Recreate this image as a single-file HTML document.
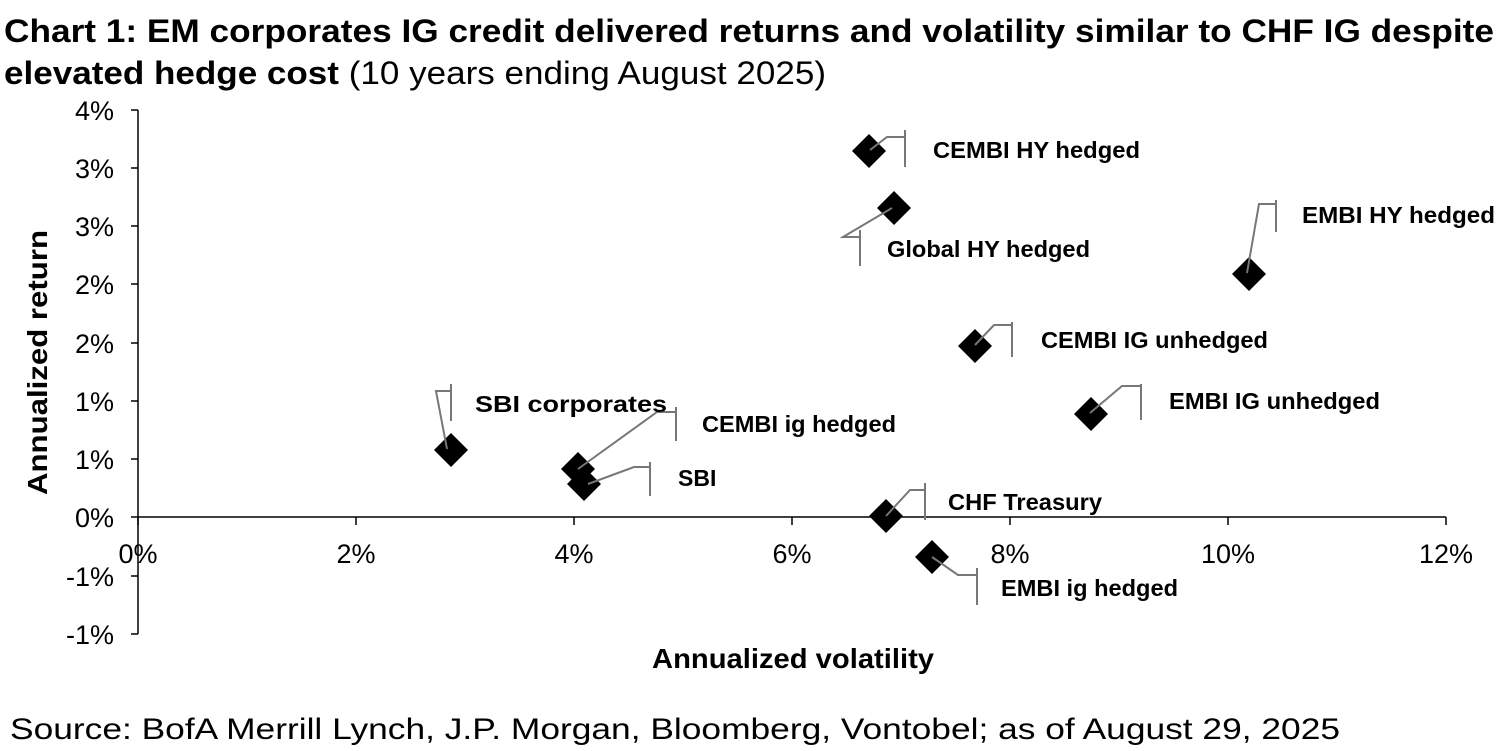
<!DOCTYPE html>
<html><head><meta charset="utf-8"><style>html,body{margin:0;padding:0;background:#fff}svg{display:block}</style></head>
<body>
<svg width="1500" height="751" viewBox="0 0 1500 751" xmlns="http://www.w3.org/2000/svg" font-family="Liberation Sans, Arial, sans-serif">
<text x="4" y="42" font-size="32" font-weight="bold" textLength="1490" lengthAdjust="spacingAndGlyphs">Chart 1: EM corporates IG credit delivered returns and volatility similar to CHF IG despite</text>
<text x="4" y="84" font-size="32" textLength="822" lengthAdjust="spacingAndGlyphs"><tspan font-weight="bold">elevated hedge cost</tspan> (10 years ending August 2025)</text>
<g stroke="#000" stroke-width="1.5" fill="none">
<line x1="138" y1="110" x2="138" y2="634"/>
<line x1="138" y1="517" x2="1446" y2="517"/>
<path d="M131 110H138M131 168H138M131 226H138M131 284H138M131 343H138M131 401H138M131 459H138M131 517H138M131 576H138M131 634H138"/>
<path d="M138 517V525M356 517V525M574 517V525M792 517V525M1010 517V525M1228 517V525M1446 517V525"/>
</g>
<g font-size="27" text-anchor="end">
<text x="114" y="120">4%</text><text x="114" y="178">3%</text><text x="114" y="236">3%</text><text x="114" y="294">2%</text><text x="114" y="353">2%</text><text x="114" y="411">1%</text><text x="114" y="469">1%</text><text x="114" y="527">0%</text><text x="114" y="586">-1%</text><text x="114" y="644">-1%</text>
</g>
<g font-size="27" text-anchor="middle">
<text x="138" y="563">0%</text><text x="356" y="563">2%</text><text x="574" y="563">4%</text><text x="792" y="563">6%</text><text x="1010" y="563">8%</text><text x="1228" y="563">10%</text><text x="1446" y="563">12%</text>
</g>
<text x="652" y="668" font-size="28" font-weight="bold" textLength="282" lengthAdjust="spacingAndGlyphs">Annualized volatility</text>
<text transform="translate(47,495) rotate(-90)" font-size="28" font-weight="bold" textLength="265" lengthAdjust="spacingAndGlyphs">Annualized return</text>
<g fill="#000">
<path d="M869 134l17 17-17 17-17-17z"/>
<path d="M894 191l17 17-17 17-17-17z"/>
<path d="M1249 257l17 17-17 17-17-17z"/>
<path d="M975 329l17 17-17 17-17-17z"/>
<path d="M1091 397l17 17-17 17-17-17z"/>
<path d="M451 433l17 17-17 17-17-17z"/>
<path d="M578 452l17 17-17 17-17-17z"/>
<path d="M584 467l17 17-17 17-17-17z"/>
<path d="M886 499l17 17-17 17-17-17z"/>
<path d="M932 540l17 17-17 17-17-17z"/>
</g>
<g stroke="#777" stroke-width="2" fill="none">
<path d="M870 150L887 137H905M905 130V167"/>
<path d="M892 208L843 237H860M860 230V266"/>
<path d="M1247 273L1259 204H1276M1276 200V232"/>
<path d="M975 345L994 325H1012M1012 322V357"/>
<path d="M1090 413L1122 386H1141M1141 384V420"/>
<path d="M447 449L436 391H451M451 384V421"/>
<path d="M578 469L657 412H676M676 407V441"/>
<path d="M588 484L634 467H650M650 462V496"/>
<path d="M886 516L910 490H925M925 483V520"/>
<path d="M932 557L958 575H977M977 568V605"/>
</g>
<g font-size="23" font-weight="bold">
<text x="933" y="158" textLength="207" lengthAdjust="spacingAndGlyphs">CEMBI HY hedged</text>
<text x="887" y="257" textLength="203" lengthAdjust="spacingAndGlyphs">Global HY hedged</text>
<text x="1302" y="223" textLength="193" lengthAdjust="spacingAndGlyphs">EMBI HY hedged</text>
<text x="1041" y="348" textLength="227" lengthAdjust="spacingAndGlyphs">CEMBI IG unhedged</text>
<text x="1169" y="409" textLength="211" lengthAdjust="spacingAndGlyphs">EMBI IG unhedged</text>
<text x="475" y="412" textLength="192" lengthAdjust="spacingAndGlyphs">SBI corporates</text>
<text x="702" y="432" textLength="194" lengthAdjust="spacingAndGlyphs">CEMBI ig hedged</text>
<text x="678" y="486">SBI</text>
<text x="948" y="510" textLength="154" lengthAdjust="spacingAndGlyphs">CHF Treasury</text>
<text x="1001" y="596" textLength="177" lengthAdjust="spacingAndGlyphs">EMBI ig hedged</text>
</g>
<text x="10" y="739" font-size="30" textLength="1330" lengthAdjust="spacingAndGlyphs">Source: BofA Merrill Lynch, J.P. Morgan, Bloomberg, Vontobel; as of August 29, 2025</text>
</svg>
</body></html>
